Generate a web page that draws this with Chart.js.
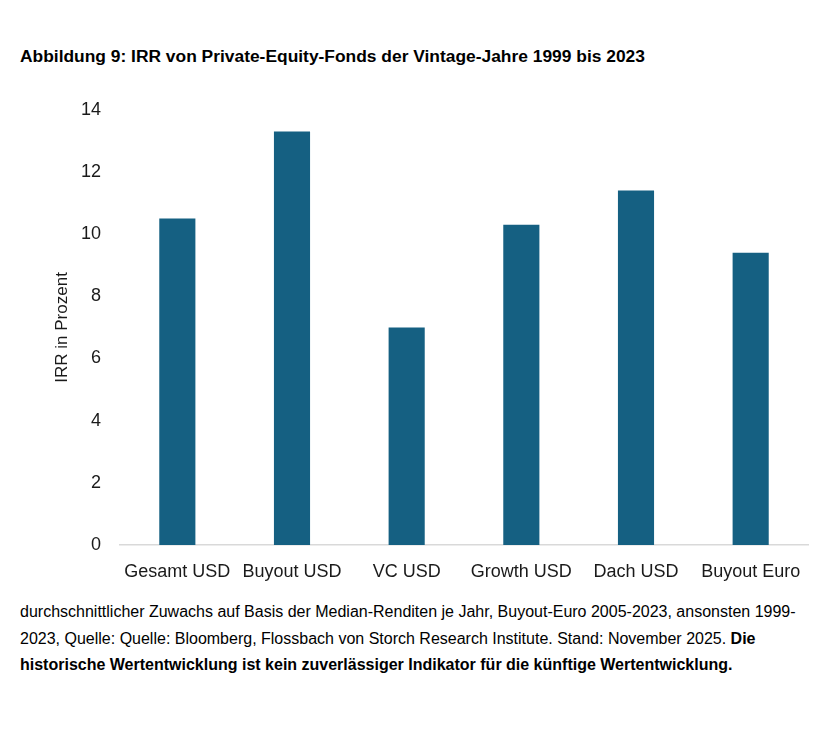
<!DOCTYPE html>
<html>
<head>
<meta charset="utf-8">
<script src="https://cdn.jsdelivr.net/npm/chart.js@4"></script>
<style>
  body { margin: 0; background: #fff; width: 837px; height: 734px; position: relative; overflow: hidden; }
  #title { position: absolute; left: 20px; top: 46px; font: bold 17.4px "Liberation Sans", Arial, sans-serif; color: #000; white-space: nowrap; }
  #wrap { position: absolute; left: 0; top: 80px; width: 837px; height: 510px; }
  #note { position: absolute; left: 20px; top: 599px; font: 16px "Liberation Sans", Arial, sans-serif; color: #000; line-height: 26.5px; white-space: nowrap; }
</style>
</head>
<body>
<div id="title">Abbildung 9: IRR von Private-Equity-Fonds der Vintage-Jahre 1999 bis 2023</div>
<div id="wrap"><canvas id="c"></canvas></div>
<div id="note">durchschnittlicher Zuwachs auf Basis der Median-Renditen je Jahr, Buyout-Euro 2005-2023, ansonsten 1999-<br>2023, Quelle: Quelle: Bloomberg, Flossbach von Storch Research Institute. Stand: November 2025. <b>Die</b><br><b>historische Wertentwicklung ist kein zuverlässiger Indikator für die künftige Wertentwicklung.</b></div>
<script>
// IRR je Fondsart in Prozent
const categories = ["Gesamt USD", "Buyout USD", "VC USD", "Growth USD", "Dach USD", "Buyout Euro"];
const irrValues = [10.5, 13.3, 7.0, 10.3, 11.4, 9.4];
const yTicks = [0, 2, 4, 6, 8, 10, 12, 14];

const tickFont = { family: "Liberation Sans, Arial, sans-serif", size: 18 };

new Chart(document.getElementById('c'), {
    type: 'bar',
    data: {
        labels: categories,
        datasets: [{
            data: irrValues,
            backgroundColor: '#156082',
            barPercentage: 0.315,
            categoryPercentage: 1
        }]
    },
    options: {
        responsive: true,
        maintainAspectRatio: false,
        animation: false,
        layout: { padding: { top: 8, right: 29, left: 0, bottom: 0 } },
        plugins: { legend: { display: false }, tooltip: { enabled: false } },
        scales: {
            x: {
                grid: { display: false, drawTicks: false },
                border: { color: '#d9d9d9', width: 1.5 },
                ticks: { color: '#1a1a1a', font: tickFont, padding: 16, maxRotation: 0, autoSkip: false },
                afterFit: s => { s.height = 45; }
            },
            y: {
                min: 0, max: 14,
                grid: { display: false, drawTicks: false },
                border: { display: false },
                afterBuildTicks: s => { s.ticks = yTicks.map(v => ({ value: v })); },
                ticks: { color: '#1a1a1a', font: tickFont, padding: 19 },
                title: { display: true, text: 'IRR in Prozent', color: '#1a1a1a', font: { family: "Liberation Sans, Arial, sans-serif", size: 17 }, padding: { top: 52, bottom: 0 } },
                afterFit: s => { s.width = 120; }
            }
        }
    }
});
</script>
</body>
</html>
